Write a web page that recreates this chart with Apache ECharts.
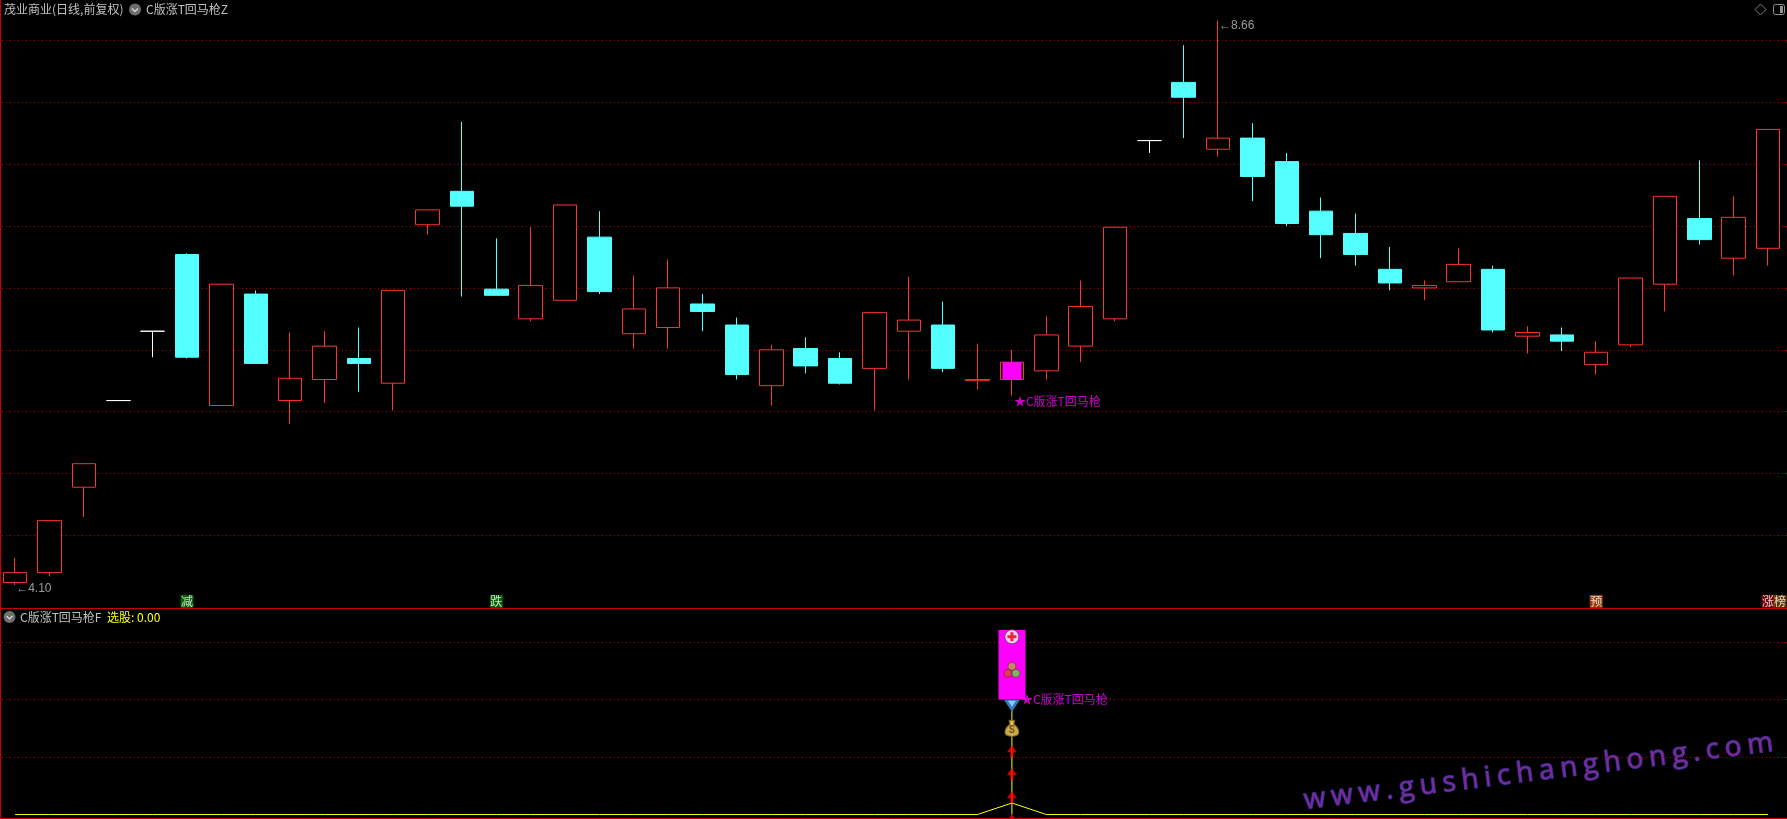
<!DOCTYPE html>
<html>
<head>
<meta charset="utf-8">
<title>C版涨T回马枪</title>
<style>
html, body { margin: 0; padding: 0; background: #000; overflow: hidden; }
#main { width: 1787px; height: 819px; }
</style>
</head>
<body>
<div id="main"></div>
<script src="https://cdn.jsdelivr.net/npm/echarts@6/dist/echarts.min.js"></script>
<script>
// K线数据，从图上读的
const opens = [4.12, 4.20, 4.89, 5.59, 6.15, 6.77, 5.55, 6.45, 5.59, 5.76, 5.93, 5.73, 7.01, 7.28, 6.49, 6.25, 6.40, 6.91, 6.13, 6.18, 6.37, 6.20, 5.71, 6.01, 5.93, 5.85, 6.15, 6.20, 5.75, 5.76, 5.83, 6.03, 6.25, 7.69, 8.16, 7.62, 7.71, 7.52, 7.12, 6.94, 6.65, 6.50, 6.55, 6.65, 6.11, 6.12, 5.88, 6.04, 6.53, 7.06, 6.74, 6.82]
const closes = [4.20, 4.62, 5.08, 5.59, 6.15, 5.94, 6.53, 5.89, 5.77, 6.03, 5.89, 6.48, 7.13, 7.16, 6.44, 6.52, 7.17, 6.47, 6.33, 6.50, 6.31, 5.80, 6.00, 5.87, 5.73, 6.30, 6.24, 5.85, 5.76, 5.90, 6.12, 6.35, 6.99, 7.69, 8.04, 7.71, 7.40, 7.02, 6.93, 6.77, 6.54, 6.52, 6.69, 6.16, 6.14, 6.07, 5.98, 6.58, 7.24, 6.89, 7.07, 7.78]
const lows = [4.10, 4.17, 4.65, 5.59, 5.94, 5.93, 5.55, 5.89, 5.40, 5.57, 5.66, 5.51, 6.93, 6.43, 6.44, 6.23, 6.40, 6.45, 6.01, 6.01, 6.15, 5.76, 5.55, 5.81, 5.72, 5.51, 5.76, 5.82, 5.68, 5.63, 5.76, 5.90, 6.23, 7.59, 7.71, 7.56, 7.20, 7.00, 6.74, 6.68, 6.48, 6.40, 6.55, 6.14, 5.97, 5.99, 5.80, 6.02, 6.31, 6.85, 6.60, 6.68]
const highs = [4.32, 4.62, 5.08, 5.59, 6.15, 6.78, 6.53, 6.48, 6.14, 6.15, 6.18, 6.48, 7.13, 7.84, 6.90, 6.99, 7.17, 7.12, 6.60, 6.73, 6.45, 6.26, 6.04, 6.10, 5.98, 6.30, 6.59, 6.39, 6.05, 6.00, 6.27, 6.56, 6.99, 7.69, 8.46, 8.66, 7.83, 7.59, 7.23, 7.10, 6.83, 6.56, 6.82, 6.68, 6.19, 6.18, 6.07, 6.58, 7.24, 7.53, 7.24, 7.78]
const categories = opens.map((v, i) => String(i + 1))

// 副图选股线，只有信号那天有值
const signalIndex = 29
const signalLine = categories.map(() => 0)
signalLine[signalIndex] = 0.2

// 信号柱和图标的位置（副图数值）
const mainStick = [5.76, 5.90]
const subStick = [2.0, 3.21]
const yellowStick = 1.8
const arrowLevels = [1.10, 0.70, 0.30, -0.10]
const crossLevel = 3.09
const ballsLevel = 2.49
const diamondLevel = 1.89
const bagLevel = 1.50

// 底部的小方块文字
const tagIndex = [5, 14, 46, 51, 51]
const tagText = ['减', '跌', '预', '涨', '榜']
const tagColor = ['#087808', '#087808', '#c04808', '#8c0010', '#7c4000']
const tagLevel = 3.968

const red = '#ff3232'
const cyan = '#54ffff'
const gridRed = '#c80000'
const dotRed = '#b40000'
const gray = '#c0c0c0'
const cnFont = '"Noto Sans CJK SC", sans-serif'

const arrowPath = 'path://M5 0L10 7H6.5V12H3.5V7H0Z'
const plusPath = 'path://M3 0H6V3H9V6H6V9H3V6H0V3H3Z'
const diamondPath = 'path://M0 0H16L8 12Z'
const diamondInnerPath = 'path://M0 0H8L4 6Z'
const bagPath = 'path://M4 0H10L9 4C12 6 14 9 14 12C14 15 11 16 7 16C3 16 0 15 0 12C0 9 2 6 5 4Z'

function point (value, extra) {
  return Object.assign({ value: [signalIndex, value] }, extra)
}

function iconSeries (symbol, size, color, data, extra) {
  return Object.assign({
    type: 'scatter',
    xAxisIndex: 3,
    yAxisIndex: 3,
    symbol: symbol,
    symbolSize: size,
    clip: false,
    silent: true,
    z: 6,
    itemStyle: { color: color },
    data: data
  }, extra)
}

function ballStyle (color) {
  return { itemStyle: { color: color, borderColor: '#4a3020', borderWidth: 0.7 }, z: 7 }
}

function textLabelSeries (xAxisIndex, data) {
  return {
    type: 'scatter',
    xAxisIndex: xAxisIndex,
    yAxisIndex: xAxisIndex,
    symbolSize: 0,
    clip: false,
    silent: true,
    z: 7,
    data: data
  }
}

function magentaCandle (xAxisIndex, width, pair) {
  return {
    type: 'candlestick',
    xAxisIndex: xAxisIndex,
    yAxisIndex: xAxisIndex,
    barWidth: width,
    clip: false,
    silent: true,
    z: 3,
    encode: { x: 0, y: [1, 2, 3, 4] },
    itemStyle: { color: '#ff00ff', color0: '#ff00ff', borderColor: '#ff00ff', borderColor0: '#ff00ff', borderColorDoji: '#ff00ff', borderWidth: 0 },
    data: [[signalIndex, pair[0], pair[1], Math.min(pair[0], pair[1]), Math.max(pair[0], pair[1])]]
  }
}

function headerText (text, x, y, fill) {
  return { type: 'text', z: 10, silent: true, style: { text: text, x: x, y: y, fill: fill || gray, font: '12px ' + cnFont, verticalAlign: 'middle' } }
}

function chevron (x, y) {
  return {
    type: 'group',
    z: 10,
    silent: true,
    children: [
      { type: 'circle', shape: { cx: x, cy: y, r: 6 }, style: { fill: '#6e6e6e' } },
      { type: 'polyline', shape: { points: [[x - 3, y - 1], [x, y + 2], [x + 3, y - 1]] }, style: { stroke: '#e0e0e0', lineWidth: 1.2, fill: null } }
    ]
  }
}

function frameLine (x1, y1, x2, y2) {
  return { type: 'line', z: 9, silent: true, shape: { x1: x1, y1: y1, x2: x2, y2: y2 }, style: { stroke: gridRed, lineWidth: 1 } }
}

// 水印字距比较宽，逐个字摆
function watermark (text, fontSize, gap) {
  const ctx = document.createElement('canvas').getContext('2d')
  const font = fontSize + 'px "Open Sans", sans-serif'
  ctx.font = font
  let x = 0
  const children = []
  for (const ch of text) {
    children.push({
      type: 'text',
      style: { text: ch, x: x, y: 0, font: font, fill: '#7c2a96', stroke: '#2c2c96', lineWidth: 1.4, verticalAlign: 'middle' }
    })
    x += ctx.measureText(ch).width + gap
  }
  return { type: 'group', x: 1304, y: 801, rotation: 0.1233, z: 20, silent: true, children: children }
}

const myChart = echarts.init(document.getElementById('main'))

const dottedGrid = { show: true, lineStyle: { color: dotRed, type: [1, 3], width: 1 }, showMinLine: false, showMaxLine: false }
const hiddenValueX = { type: 'value', min: 0, max: 1, show: false }

myChart.setOption({
  animation: false,
  backgroundColor: '#000',
  // 0、1只画虚线，铺满整个宽度；2、3放数据
  grid: [
    { left: 2, right: 0, top: -21.6, height: 619, outerBoundsMode: 'none' },
    { left: 2, right: 0, top: 584.5, height: 230, outerBoundsMode: 'none' },
    { left: -2, width: 1787.2, top: -21.6, height: 619, outerBoundsMode: 'none' },
    { left: -2, width: 1787.2, top: 584.5, height: 230, outerBoundsMode: 'none' }
  ],
  xAxis: [
    Object.assign({ gridIndex: 0 }, hiddenValueX),
    Object.assign({ gridIndex: 1 }, hiddenValueX),
    { type: 'category', gridIndex: 2, data: categories, show: false },
    { type: 'category', gridIndex: 3, data: categories, show: false }
  ],
  yAxis: [
    { type: 'value', gridIndex: 0, min: 4, max: 9, interval: 0.5, axisLine: { show: false }, axisTick: { show: false }, axisLabel: { show: false }, splitLine: dottedGrid },
    { type: 'value', gridIndex: 1, min: 0, max: 4, interval: 1, axisLine: { show: false }, axisTick: { show: false }, axisLabel: { show: false }, splitLine: dottedGrid },
    { type: 'value', gridIndex: 2, min: 4, max: 9, show: false },
    { type: 'value', gridIndex: 3, min: 0, max: 4, show: false }
  ],
  series: [
    {
      type: 'candlestick',
      xAxisIndex: 2,
      yAxisIndex: 2,
      barWidth: 24,
      clip: false,
      silent: true,
      z: 2,
      itemStyle: { color: '#000', color0: cyan, borderColor: red, borderColor0: cyan, borderColorDoji: '#fff', borderWidth: 1 },
      data: opens.map((v, i) => [v, closes[i], lows[i], highs[i]])
    },
    magentaCandle(2, 19, mainStick),
    textLabelSeries(2, [
      { value: [0, 4.10], label: { show: true, position: 'right', distance: 0, offset: [1, 4], formatter: '←4.10', color: gray, fontSize: 12, fontFamily: 'Liberation Sans' } },
      { value: [35, 8.66], label: { show: true, position: 'right', distance: 0, offset: [1, 5], formatter: '←8.66', color: gray, fontSize: 12, fontFamily: 'Liberation Sans' } },
      { value: [signalIndex, 5.59], label: { show: true, position: 'right', distance: 0, offset: [2, 1], formatter: '★C版涨T回马枪', color: '#ff00ff', fontSize: 12, fontFamily: cnFont } }
    ]),
    textLabelSeries(2, tagIndex.map((idx, i) => ({
      value: [idx, tagLevel],
      label: {
        show: true,
        position: 'inside',
        offset: tagText[i] === '榜' ? [12, 0] : [0, 0],
        formatter: tagText[i],
        color: '#fff',
        fontSize: 12,
        lineHeight: 13,
        fontFamily: cnFont,
        backgroundColor: tagColor[i],
        padding: [0, 0.5]
      }
    }))),
    {
      type: 'bar',
      xAxisIndex: 3,
      yAxisIndex: 3,
      barWidth: 1,
      silent: true,
      z: 2,
      itemStyle: { color: '#ffff00' },
      data: categories.map((c, i) => (i === signalIndex ? yellowStick : null))
    },
    {
      type: 'line',
      xAxisIndex: 3,
      yAxisIndex: 3,
      symbol: 'none',
      silent: true,
      z: 2,
      lineStyle: { color: '#ffff00', width: 1 },
      data: signalLine
    },
    magentaCandle(3, 27, subStick),
    iconSeries(arrowPath, [10, 12], '#ff0000', arrowLevels.map(v => point(v))),
    iconSeries('circle', 14, '#fff', [point(crossLevel)], { itemStyle: { color: '#fff', borderColor: '#555', borderWidth: 1 } }),
    iconSeries(plusPath, 9, '#e00000', [point(crossLevel)], { z: 7 }),
    iconSeries('circle', 8, '#c8a040', [point(ballsLevel, { symbolOffset: [0, -5] })], ballStyle('#c8a040')),
    iconSeries('circle', 8, '#e04838', [point(ballsLevel, { symbolOffset: [-4, 2] })], ballStyle('#e04838')),
    iconSeries('circle', 8, '#60e040', [point(ballsLevel, { symbolOffset: [4, 2] })], ballStyle('#60e040')),
    iconSeries(diamondPath, [16, 12], '#3a9cf0', [point(diamondLevel)]),
    iconSeries(diamondInnerPath, [8, 6], '#a8dcff', [point(diamondLevel, { symbolOffset: [0, -2] })], { z: 7 }),
    iconSeries(bagPath, [14, 16], '#f0d860', [point(bagLevel, {
      label: { show: true, position: 'inside', offset: [0, 2], formatter: '$', color: '#703010', fontSize: 10, fontWeight: 'bold', fontFamily: 'Liberation Sans' }
    })], { itemStyle: { color: '#f0d860', borderColor: '#805020', borderWidth: 1 } }),
    textLabelSeries(3, [
      { value: [signalIndex, 2.0], label: { show: true, position: 'right', distance: 0, offset: [9, 0], formatter: '★C版涨T回马枪', color: '#ff00ff', fontSize: 12, fontFamily: cnFont } }
    ])
  ],
  graphic: [
    frameLine(0.5, 0, 0.5, 819),
    frameLine(0, 608.5, 1787, 608.5),
    frameLine(0, 818.5, 1787, 818.5),
    headerText('茂业商业(日线,前复权)', 4, 9.5),
    chevron(135, 9.5),
    headerText('C版涨T回马枪Z', 146, 9.5),
    chevron(9.5, 617),
    headerText('C版涨T回马枪F', 20, 617),
    headerText('选股: 0.00', 107, 617, '#ffff00'),
    { type: 'polygon', z: 10, silent: true, shape: { points: [[1760.5, 4], [1766, 9.5], [1760.5, 15], [1755, 9.5]] }, style: { stroke: '#808080', fill: null, lineWidth: 1 } },
    { type: 'rect', z: 10, silent: true, shape: { x: 1773.5, y: 4.5, width: 11, height: 10, r: 2 }, style: { stroke: '#909090', fill: null, lineWidth: 1 } },
    { type: 'rect', z: 10, silent: true, shape: { x: 1780, y: 6, width: 3, height: 7 }, style: { fill: '#909090' } },
    watermark('www.gushichanghong.com', 28, 5.8)
  ]
})
</script>
</body>
</html>
